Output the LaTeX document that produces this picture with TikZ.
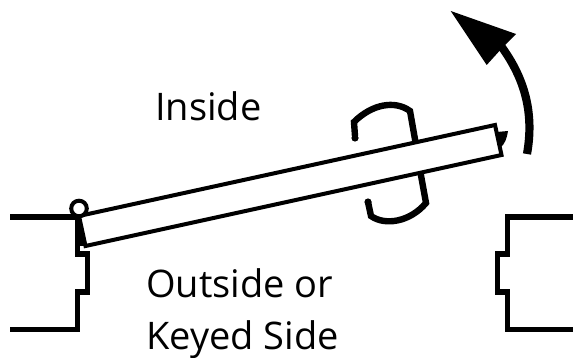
\documentclass[tikz,border=0pt]{standalone}
\usepackage{fontspec}
\setmainfont{Open Sans}
\usetikzlibrary{arrows.meta,positioning}
\begin{document}
\begin{tikzpicture}[
  x=1pt, y=-1pt,
  every node/.style={font=\fontsize{38}{38}\selectfont, align=left, inner sep=0pt, anchor=base west},
  frame/.style={line width=5.4pt, miter limit=10},
  door/.style={line width=4pt, fill=white, line join=miter},
  handle/.style={line width=6.4pt},
  swing/.style={line width=8.2pt}
]
\useasboundingbox (0,0) rectangle (573,358);
% door frame
\draw[frame] (10,217) -- (77.5,217) -- (77.5,254) -- (87.5,254) -- (87.5,292) -- (77.5,292) -- (77.5,329.5) -- (10,329.5);
\draw[frame] (573,217) -- (507.5,217) -- (507.5,254) -- (497.5,254) -- (497.5,292) -- (507.5,292) -- (507.5,329.5) -- (573,329.5);
% thumb turn
\draw[handle] (355,136) -- (354,122) .. controls (372,104) and (395,100) .. (410,111) -- (416,145);
\draw[handle] (420,170) -- (426,203) .. controls (410,222) and (385,226) .. (371,216) -- (368,202);
\fill (355,138) circle (3.6);
\fill (368,202) circle (3.6);
% door
\draw[door] (79,216) -- (495,125) -- (501.5,155) -- (85.5,246) -- cycle;
\fill (79,212) -- (85,246) -- (79,246) -- (77,220) -- cycle;
\fill (497,132) -- (508,131) .. controls (507,138) and (505,144) .. (500,148) -- cycle;
\draw[line width=4pt, fill=white] (79,208.5) circle (7.8);
% swing arrow
\draw[swing] (527,154) .. controls (534,115) and (526,80) .. (501,46);
\fill (450.7,11) -- (516,34) -- (503,47) -- (486.7,65) -- cycle;
% labels
\node (inside) at (155,120.5) {Inside};
\node (outside) at (146,298) {Outside or};
\node (keyed) at (146,349) {Keyed Side};
\end{tikzpicture}
\end{document}
